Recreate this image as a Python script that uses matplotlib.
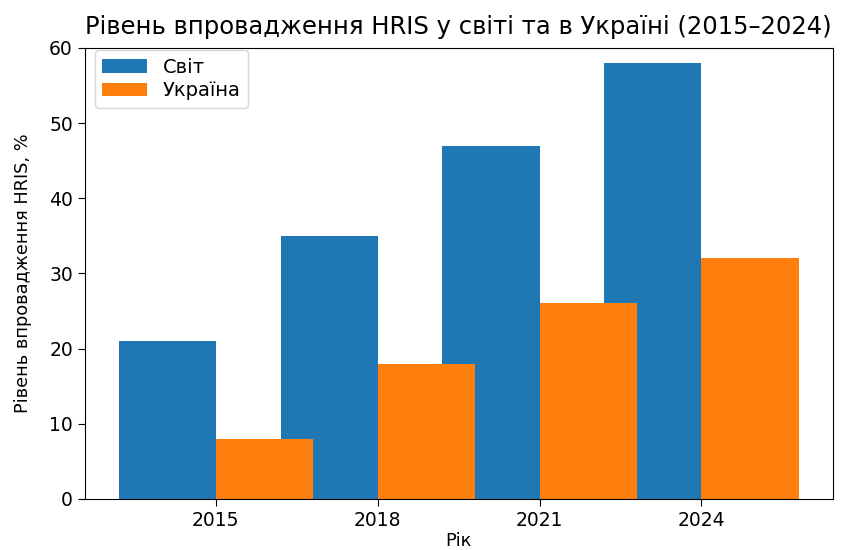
import numpy as np
import matplotlib
matplotlib.use('Agg')
import matplotlib.pyplot as plt

# дані
years = ['2015', '2018', '2021', '2024']
world = [21, 35, 47, 58]
ukraine = [8, 18, 26, 32]

fig, ax = plt.subplots(figsize=(8.47, 5.5), dpi=100)
fig.subplots_adjust(left=0.100, right=0.983, top=0.913, bottom=0.093)

x = np.arange(len(years))
w = 0.6
ax.bar(x - w / 2, world, w, color='#1f77b4', label='Світ')
ax.bar(x + w / 2, ukraine, w, color='#ff7f0e', label='Україна')

ax.set_xticks(x)
ax.set_xticklabels(years)
ax.tick_params(labelsize=13.5, length=5)
ax.set_ylim(0, 60)
ax.set_xlabel('Рік', fontsize=12.8, labelpad=2)
ax.set_ylabel('Рівень впровадження HRIS, %', fontsize=12.8, labelpad=12)
ax.set_title('Рівень впровадження HRIS у світі та в Україні (2015–2024)',
             fontsize=17.5, pad=10)
ax.legend(fontsize=14, loc='upper left', bbox_to_anchor=(0.0134, 0.9956),
          borderaxespad=0, handlelength=2.3, labelspacing=0.25)

fig.savefig('out.png', dpi=100)
